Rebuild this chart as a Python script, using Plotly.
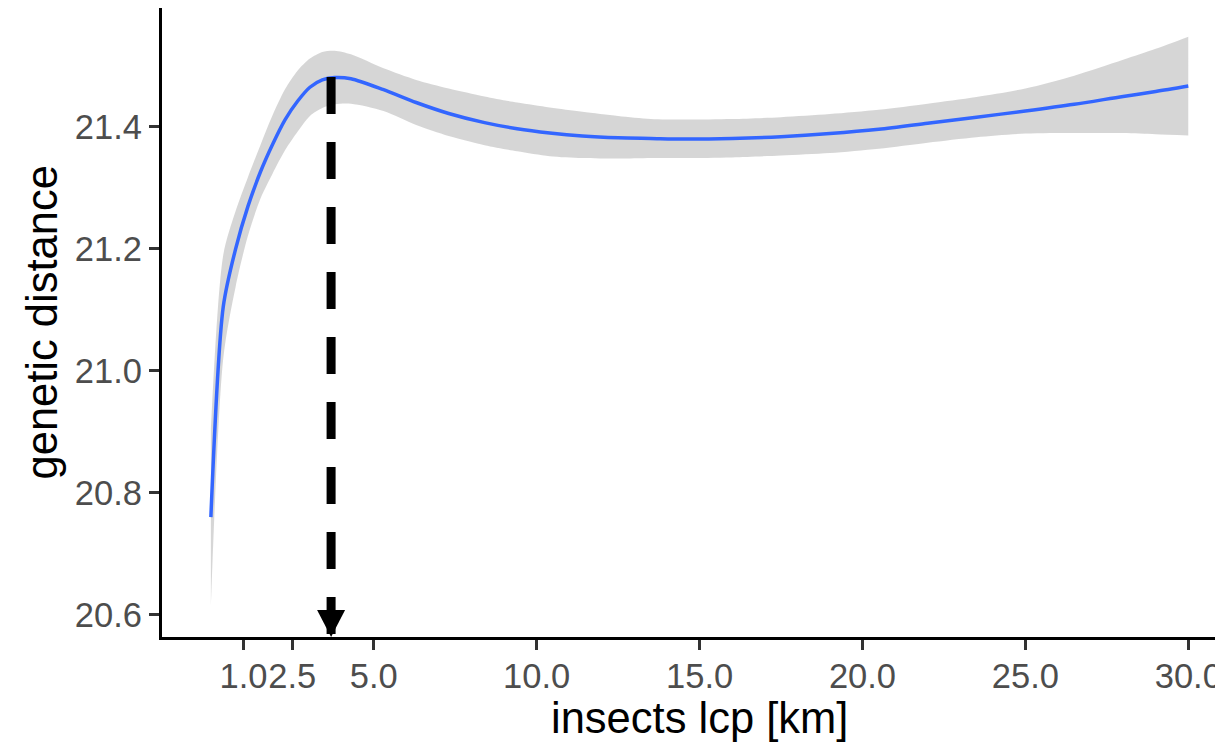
import plotly.graph_objects as go

# Smoothed fit of genetic distance against insect least-cost-path distance
x_km = [0, 0.38, 0.76, 1.14, 1.52, 1.90, 2.28, 2.66, 3.04, 3.42, 3.80, 4.30,
        5.30, 6.30, 7.30, 8.40, 9.40, 10.4, 11.4, 12.5, 13.5, 14.5, 16.0, 17.5,
        19.0, 20.5, 22.0, 23.5, 25.0, 26.5, 28.0, 29.0, 30.0]
fit = [20.760, 21.105, 21.200, 21.270, 21.326, 21.372, 21.412, 21.442, 21.465,
       21.477, 21.481, 21.479, 21.461, 21.440, 21.422, 21.407, 21.397, 21.390,
       21.385, 21.382, 21.381, 21.380, 21.381, 21.384, 21.389, 21.396, 21.406,
       21.416, 21.426, 21.437, 21.450, 21.458, 21.467]
upper = [20.905, 21.190, 21.262, 21.318, 21.370, 21.420, 21.462, 21.492, 21.512,
         21.523, 21.525, 21.519, 21.496, 21.477, 21.463, 21.450, 21.440, 21.432,
         21.425, 21.418, 21.413, 21.412, 21.413, 21.416, 21.421, 21.428, 21.438,
         21.449, 21.463, 21.484, 21.510, 21.528, 21.548]
lower = [20.615, 21.020, 21.138, 21.222, 21.282, 21.324, 21.362, 21.392, 21.418,
         21.431, 21.437, 21.438, 21.426, 21.403, 21.385, 21.370, 21.360, 21.352,
         21.349, 21.348, 21.349, 21.349, 21.350, 21.353, 21.357, 21.364, 21.374,
         21.383, 21.389, 21.390, 21.390, 21.388, 21.386]

# Location of the maximum of the fitted curve
peak_x = 3.69
peak_y = 21.482

x_ticks = [1.0, 2.5, 5.0, 10.0, 15.0, 20.0, 25.0, 30.0]
x_tick_labels = ["1.0", "2.5", "5.0", "10.0", "15.0", "20.0", "25.0", "30.0"]
y_ticks = [20.6, 20.8, 21.0, 21.2, 21.4]
y_tick_labels = ["20.6", "20.8", "21.0", "21.2", "21.4"]

x_range = [-1.5, 30.82]
y_range = [20.5634, 21.595]

FONT = "Liberation Sans, Arial, Helvetica, sans-serif"
SMOOTH = 0.8

fig = go.Figure()

# confidence band: lower edge, then upper edge filled down to it
fig.add_trace(go.Scatter(
    x=x_km, y=lower, mode="lines",
    line=dict(width=0, color="rgba(0,0,0,0)", shape="spline", smoothing=SMOOTH),
    hoverinfo="skip", showlegend=False,
))
fig.add_trace(go.Scatter(
    x=x_km, y=upper, mode="lines", fill="tonexty",
    fillcolor="rgba(153,153,153,0.4)",
    line=dict(width=0, color="rgba(0,0,0,0)", shape="spline", smoothing=SMOOTH),
    hoverinfo="skip", showlegend=False,
))

# fitted curve
fig.add_trace(go.Scatter(
    x=x_km, y=fit, mode="lines",
    line=dict(color="#3366FF", width=3.5, shape="spline", smoothing=SMOOTH),
    showlegend=False,
))

# dashed drop line from the maximum down to the x axis
fig.add_trace(go.Scatter(
    x=[peak_x, peak_x], y=[peak_y, y_range[0]], mode="lines",
    line=dict(color="black", width=9, dash="37px,28px"),
    showlegend=False,
))

# arrow head sitting on the x axis
fig.add_shape(
    type="path",
    xref="x", yref="y",
    xsizemode="pixel", ysizemode="pixel",
    xanchor=peak_x, yanchor=y_range[0],
    path="M -14,27 L 14,27 L 0,0 Z",
    fillcolor="black",
    line=dict(width=0),
    layer="above",
)

axis_common = dict(
    showline=True, linecolor="black", linewidth=3.3,
    ticks="outside", ticklen=10, tickwidth=3.3, tickcolor="#333333",
    showgrid=False, zeroline=False, automargin=False,
    tickfont=dict(family=FONT, size=34.5, color="#4D4D4D"),
)

fig.update_xaxes(range=x_range, tickmode="array", tickvals=x_ticks,
                 ticktext=x_tick_labels, tickangle=0,
                 ticklabeloverflow="allow", ticklabelstandoff=-4,
                 **axis_common)
fig.update_yaxes(range=y_range, tickmode="array", tickvals=y_ticks,
                 ticktext=y_tick_labels, **axis_common)

# axis titles
fig.add_annotation(
    text="insects lcp [km]", x=15, xref="x", y=0, yref="paper",
    xanchor="center", yanchor="middle", yshift=-81, showarrow=False,
    font=dict(family=FONT, size=43.5, color="black"),
)
fig.add_annotation(
    text="genetic distance", x=0, xref="paper", y=0.5, yref="paper",
    xanchor="center", yanchor="middle", xshift=-121, textangle=-90,
    showarrow=False,
    font=dict(family=FONT, size=43.5, color="black"),
)

fig.update_layout(
    width=1215, height=747,
    margin=dict(l=162, r=0, t=8, b=110, autoexpand=False),
    plot_bgcolor="white", paper_bgcolor="white",
    showlegend=False,
)

fig.write_html("out.html")
